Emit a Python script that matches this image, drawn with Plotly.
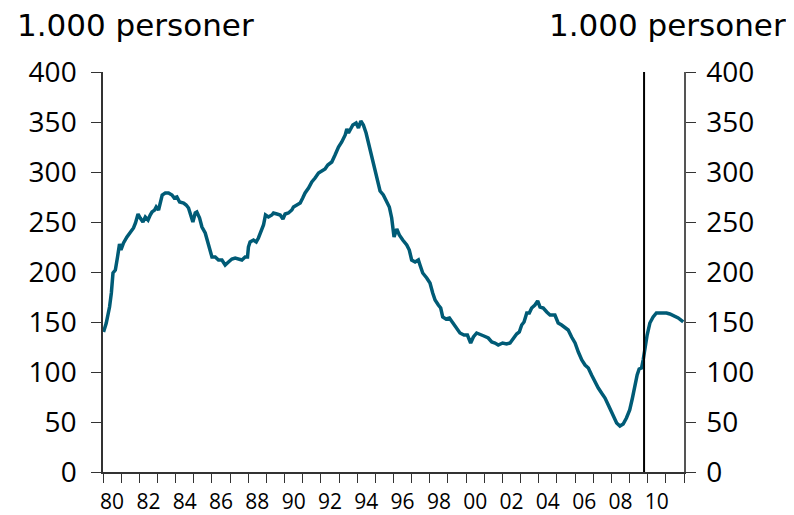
import plotly.graph_objects as go

# Time (decimal years) and values (1.000 personer)
years = [
    1980.03, 1980.18, 1980.36, 1980.46, 1980.55, 1980.68, 1980.80, 1980.91, 1980.99,
    1981.13, 1981.32, 1981.50, 1981.68, 1981.79, 1981.93, 1982.05, 1982.20, 1982.33,
    1982.48, 1982.60, 1982.70, 1982.84, 1982.93, 1983.06, 1983.15, 1983.26, 1983.43,
    1983.61, 1983.80, 1983.92, 1984.07, 1984.22, 1984.44, 1984.58, 1984.71, 1984.84,
    1984.95, 1985.08, 1985.17, 1985.32, 1985.45, 1985.63, 1985.76, 1985.91, 1986.00,
    1986.18, 1986.36, 1986.55, 1986.73, 1986.91, 1987.10, 1987.28, 1987.46, 1987.65,
    1987.83, 1987.96, 1988.01, 1988.10, 1988.29, 1988.44, 1988.56, 1988.70, 1988.84,
    1988.95, 1989.11, 1989.30, 1989.39, 1989.58, 1989.76, 1989.91, 1990.03, 1990.21,
    1990.40, 1990.49, 1990.68, 1990.86, 1991.00, 1991.13, 1991.32, 1991.50, 1991.68,
    1991.87, 1992.05, 1992.23, 1992.38, 1992.60, 1992.78, 1992.97, 1993.15, 1993.34,
    1993.43, 1993.52, 1993.61, 1993.76, 1993.94, 1994.07, 1994.20, 1994.34, 1994.49,
    1994.62, 1994.75, 1994.86, 1994.99, 1995.11, 1995.26, 1995.44, 1995.63, 1995.77,
    1995.90, 1996.03, 1996.18, 1996.32, 1996.51, 1996.73, 1996.87, 1997.00, 1997.19,
    1997.37, 1997.46, 1997.61, 1997.83, 1998.01, 1998.16, 1998.29, 1998.47, 1998.60,
    1998.71, 1998.89, 1999.08, 1999.26, 1999.44, 1999.66, 1999.88, 2000.07, 2000.25,
    2000.40, 2000.58, 2000.77, 2000.98, 2001.22, 2001.41, 2001.59, 2001.77, 2002.01,
    2002.23, 2002.42, 2002.60, 2002.78, 2002.93, 2003.06, 2003.19, 2003.34, 2003.48,
    2003.61, 2003.79, 2003.94, 2004.07, 2004.25, 2004.44, 2004.62, 2004.89, 2005.07,
    2005.26, 2005.44, 2005.62, 2005.81, 2006.00, 2006.18, 2006.37, 2006.55, 2006.73,
    2006.91, 2007.10, 2007.28, 2007.46, 2007.65, 2007.83, 2008.01, 2008.14, 2008.29,
    2008.47, 2008.65, 2008.83, 2009.01, 2009.16, 2009.29, 2009.42, 2009.53, 2009.66,
    2009.75, 2009.84, 2009.97, 2010.12, 2010.30, 2010.48, 2010.67, 2011.04, 2011.22,
    2011.44, 2011.68, 2011.96,
]
values = [
    140, 149, 165, 179, 199, 202, 215, 228, 222,
    229, 235, 239, 244, 249, 258, 254, 250, 255,
    252, 257, 260, 262, 265, 262, 269, 277, 279,
    279, 277, 274, 275, 270, 269, 267, 264, 257,
    250, 259, 260, 254, 245, 239, 230, 222, 215,
    215, 212, 212, 207, 210, 213, 214, 213, 212,
    215, 215, 225, 230, 232, 230, 234, 240, 247,
    257, 255, 257, 259, 258, 257, 253, 258, 259,
    262, 265, 267, 269, 274, 279, 284, 290, 294,
    299, 301, 303, 307, 310, 317, 325, 330, 337,
    343, 339, 342, 347, 349, 344, 351, 347, 339,
    329, 322, 312, 302, 293, 281, 277, 270, 265,
    254, 235, 243, 237, 232, 227, 222, 212, 210,
    212, 207, 199, 194, 189, 179, 172, 167, 164,
    155, 153, 154, 149, 144, 139, 137, 137, 129,
    135, 139, 138, 136, 134, 130, 129, 127, 129,
    128, 129, 134, 138, 140, 147, 150, 159, 159,
    164, 167, 171, 165, 164, 160, 157, 157, 149,
    147, 144, 142, 135, 129, 120, 112, 107, 104,
    97, 90, 84, 79, 74, 67, 60, 54, 49,
    46, 48, 54, 62, 74, 87, 97, 103, 104,
    112, 124, 137, 149, 155, 159, 159, 159, 158,
    156, 154, 150,
]

label_years = list(range(1980, 2012, 2))
tick_labels = ["80", "82", "84", "86", "88", "90", "92", "94", "96", "98",
               "00", "02", "04", "06", "08", "10"]
y_ticks = [0, 50, 100, 150, 200, 250, 300, 350, 400]
unit_label = "1.000 personer"
divider_year = 2009.8
divider_top = 414

LINE = "#005B76"
AX = "#333333"

W, H = 786, 507          # page body adds an 8 px offset
ML, MR, MT, MB = 95, 110, 64, 43
PW = W - ML - MR
PH = H - MT - MB

fig = go.Figure()
fig.add_trace(go.Scatter(x=years, y=values, mode="lines",
                         line=dict(color=LINE, width=3.5), showlegend=False,
                         hoverinfo="skip"))
# invisible trace for right axis
fig.add_trace(go.Scatter(x=[years[0]], y=[values[0]], yaxis="y2", mode="lines",
                         line=dict(width=0), showlegend=False, hoverinfo="skip"))

fig.add_shape(type="line", xref="x", yref="y", x0=divider_year, x1=divider_year,
              y0=0, y1=divider_top, line=dict(color="black", width=2))

tick_font = dict(family="Open Sans", size=28, color="black")
fig.update_layout(
    width=W, height=H,
    margin=dict(l=ML, r=MR, t=MT, b=MB, autoexpand=False),
    paper_bgcolor="white", plot_bgcolor="white",
    xaxis=dict(range=[1980, 2012], tickmode="array",
               tickvals=[y + 0.5 for y in label_years], ticktext=tick_labels,
               ticks="", showgrid=False, zeroline=False,
               showline=True, linecolor=AX, linewidth=1.5,
               tickfont=dict(family="Open Sans", size=21, color="black"),
               ticklabelstandoff=10,
               minor=dict(ticks="outside", ticklen=9, tickwidth=1.2,
                          tickcolor=AX, dtick=1, tick0=1980, showgrid=False)),
    yaxis=dict(range=[0, 400], tickvals=y_ticks, ticks="outside", ticklen=10,
               tickwidth=1.2, tickcolor=AX, showgrid=False, zeroline=False,
               showline=True, linecolor=AX, linewidth=1.5,
               tickfont=tick_font, ticklabelstandoff=9),
    yaxis2=dict(range=[0, 400], tickvals=y_ticks, ticks="outside", ticklen=10,
                tickwidth=1.2, tickcolor=AX, showgrid=False, zeroline=False,
                showline=True, linecolor="#555555", linewidth=1.5,
                overlaying="y", side="right", tickfont=tick_font,
                ticklabelstandoff=5),
)
title_y = 1 + (MT - 17) / PH
fig.add_annotation(text=unit_label, xref="paper", yref="paper",
                   x=(7 - ML) / PW, y=title_y, xanchor="left",
                   yanchor="middle", showarrow=False,
                   font=dict(family="DejaVu Sans", size=31, color="black"))
fig.add_annotation(text=unit_label, xref="paper", yref="paper",
                   x=(780 - ML) / PW, y=title_y, xanchor="right",
                   yanchor="middle", showarrow=False,
                   font=dict(family="DejaVu Sans", size=31, color="black"))

fig.write_html("out.html")
